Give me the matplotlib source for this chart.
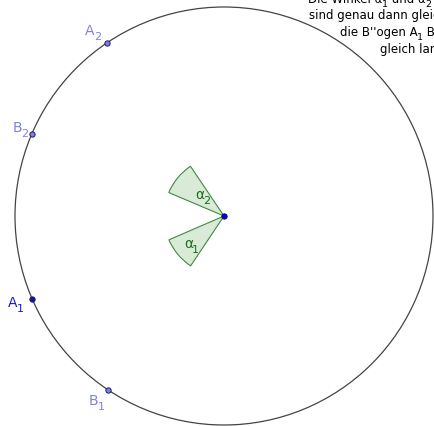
import re
import numpy as np
import matplotlib.pyplot as plt
from matplotlib.patches import Circle, Wedge

# circle and points (pixel-like units, y up, centre at origin)
radius = 209
point_names = ['A_1', 'B_1', 'A_2', 'B_2']
point_angles = [203.4, 236.2, 124.0, 157.0]
point_fill = ['#1010b0', '#7c7cf0', '#7c7cf0', '#7c7cf0']
label_colors = ['#1a1ad0', '#8080e8', '#8080e8', '#8080e8']
label_offsets = [(-24, -7), (-19, -14), (-22, 9), (-19, 3)]

# angle sectors at the centre
sector_names = ['α_1', 'α_2']
sector_from = [203.4, 124.0]
sector_to = [236.2, 157.0]
sector_radius = 60
sector_label_pos = [(-40, -31), (-29, 18)]

text_lines = ['Die Winkel α_1 und α_2',
              'sind genau dann gleich, wenn',
              'die B\'\'ogen A_1 B_1 und A_2 B_2',
              'gleich lang sind.']

fig = plt.figure(figsize=(4.35, 4.27), dpi=100)
ax = fig.add_axes([0, 0, 1, 1])
ax.set_xlim(-224, 211)
ax.set_ylim(-210, 217)
ax.axis('off')
renderer = fig.canvas.get_renderer()


def draw_sub(x, y, s, size, color, dx=0, dy=0):
    # GeoGebra style subscripts: big and dropped, drawn piece by piece
    off = dx
    for i, part in enumerate(re.split(r'_(\d)', s)):
        if not part:
            continue
        sub = i % 2 == 1
        t = ax.annotate(part, (x, y), xytext=(off, dy - 0.5 * size if sub else dy),
                        textcoords='offset pixels', color=color,
                        fontsize=size * 0.8 if sub else size,
                        ha='left', va='baseline')
        off += t.get_window_extent(renderer).width + (0.5 if sub else -0.1 * size)


ax.add_patch(Circle((0, 0), radius, fill=False, ec='#444444', lw=0.9))

for name, t1, t2, pos in zip(sector_names, sector_from, sector_to, sector_label_pos):
    ax.add_patch(Wedge((0, 0), sector_radius, t1, t2, fc='#d9ebd7',
                       ec='#3f8a3f', lw=0.8))
    draw_sub(pos[0], pos[1], name, 10, '#1a6e1a')

ang = np.deg2rad(point_angles)
px = radius * np.cos(ang)
py = radius * np.sin(ang)
for x, y, name, fc, lc, off in zip(px, py, point_names, point_fill,
                                    label_colors, label_offsets):
    ax.plot(x, y, 'o', ms=3.8, mfc=fc, mec='#1e1e5a', mew=0.7)
    draw_sub(x, y, name, 10, lc, off[0], off[1])

ax.plot(0, 0, 'o', ms=3.8, mfc='#0000ff', mec='#101040', mew=0.7)

# text box in the top right corner, cut by the image edge
line_x = [308, 309, 340, 380]
line_y = [3, 19, 36, 53]
for s, lx, ly in zip(text_lines, line_x, line_y):
    draw_sub(lx - 224, 217 - ly, s, 8.5, 'black')

fig.savefig('out.png', dpi=100)
